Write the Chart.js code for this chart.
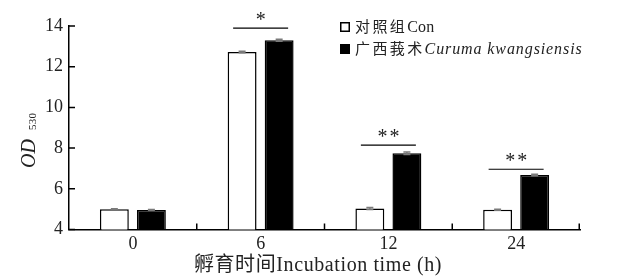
<!DOCTYPE html>
<html>
<head>
<meta charset="utf-8">
<script src="https://cdn.jsdelivr.net/npm/chart.js@4/dist/chart.umd.min.js"></script>
<style>
  html, body { margin: 0; padding: 0; background: #fff; }
  #wrap { width: 633px; height: 276px; }
</style>
</head>
<body>
<div id="wrap"><canvas id="c" width="633" height="276"></canvas></div>
<script>
// ---- data ----
const categories = ['0', '6', '12', '24'];
const conValues = [5.00, 12.72, 5.03, 4.97];
const curValues = [4.96, 13.30, 7.75, 6.68];
const conErr = [0.02, 0.04, 0.05, 0.02];
const curErr = [0.02, 0.05, 0.06, 0.04];
const sigLabels = ['', '*', '**', '**'];
const sigLineValues = [null, 13.9, 8.15, 6.96];
const yTicks = [4, 6, 8, 10, 12, 14];
const legendCn = ['对照组', '广西莪术'];
const legendLatin = ['Con', 'Curuma kwangsiensis'];
const xTitle = '孵育时间Incubation time (h)';
const yTitleMain = 'OD';
const yTitleSub = '530';

const SERIF = '"Liberation Serif", "Times New Roman", "Noto Sans CJK SC", serif';

const decor = {
  id: 'decor',
  afterDraw(chart) {
    const ctx = chart.ctx;
    const { left, right, top, bottom } = chart.chartArea;
    const xs = chart.scales.x, ys = chart.scales.y;
    ctx.save();
    // y tick marks (inward)
    ctx.strokeStyle = '#000';
    ctx.lineWidth = 1.5;
    ctx.beginPath();
    yTicks.forEach(v => {
      const py = ys.getPixelForValue(v);
      ctx.moveTo(left, py);
      ctx.lineTo(left + 6, py);
    });
    // x tick marks at category boundaries (upwards)
    const n = categories.length;
    for (let i = 0; i < n; i++) {
      const bx = i < n - 1 ? (xs.getPixelForValue(i) + xs.getPixelForValue(i + 1)) / 2 : right - 0.75;
      ctx.moveTo(bx, bottom);
      ctx.lineTo(bx, bottom - 6);
    }
    ctx.stroke();

    // error bars
    const errs = [conErr, curErr];
    const vals = [conValues, curValues];
    ctx.strokeStyle = '#7a7a7a';
    ctx.lineWidth = 1.5;
    [0, 1].forEach(d => {
      const meta = chart.getDatasetMeta(d);
      meta.data.forEach((bar, i) => {
        const yt = ys.getPixelForValue(vals[d][i] + errs[d][i]);
        const yb = ys.getPixelForValue(vals[d][i] - errs[d][i]);
        ctx.beginPath();
        ctx.moveTo(bar.x, yt); ctx.lineTo(bar.x, yb);
        ctx.moveTo(bar.x - 3.5, yt); ctx.lineTo(bar.x + 3.5, yt);
        ctx.moveTo(bar.x - 3.5, yb); ctx.lineTo(bar.x + 3.5, yb);
        ctx.stroke();
      });
    });

    // significance marks
    ctx.strokeStyle = '#000';
    ctx.fillStyle = '#222';
    ctx.lineWidth = 1.2;
    ctx.font = '20px ' + SERIF;
    ctx.letterSpacing = '2px';
    ctx.textAlign = 'center';
    ctx.textBaseline = 'alphabetic';
    sigLabels.forEach((lab, i) => {
      if (!lab) return;
      const cx = xs.getPixelForValue(i);
      const ly = ys.getPixelForValue(sigLineValues[i]);
      ctx.beginPath();
      ctx.moveTo(cx - 27.5, ly); ctx.lineTo(cx + 27.5, ly);
      ctx.stroke();
      ctx.fillText(lab, cx + 1, ly - 2);
    });

    // legend
    ctx.textAlign = 'left';
    ctx.lineWidth = 1.5;
    ctx.strokeStyle = '#000';
    ctx.strokeRect(340.75, 22.75, 8.5, 8.5);
    ctx.fillStyle = '#000';
    ctx.fillRect(340, 44, 10, 10);
    ctx.fillStyle = '#222';
    const rows = [32, 54];
    rows.forEach((by, r) => {
      ctx.font = '15px "Noto Sans CJK SC", sans-serif';
      ctx.letterSpacing = '2.4px';
      ctx.fillText(legendCn[r], 355, by);
      const w = ctx.measureText(legendCn[r]).width;
      ctx.font = (r === 1 ? 'italic ' : '') + '16px ' + SERIF;
      ctx.letterSpacing = r === 1 ? '0.9px' : '0.2px';
      ctx.fillText(legendLatin[r], 355 + w, by);
    });

    // x title
    ctx.letterSpacing = '0.6px';
    ctx.font = '20px ' + SERIF;
    ctx.textAlign = 'center';
    ctx.textBaseline = 'alphabetic';
    ctx.fillText(xTitle, 318, 271);

    // y title (rotated)
    ctx.letterSpacing = '0px';
    ctx.translate(35, 168);
    ctx.rotate(-Math.PI / 2);
    ctx.textAlign = 'left';
    ctx.font = 'italic 20px ' + SERIF;
    ctx.fillText(yTitleMain, 0, 0);
    const mw = ctx.measureText(yTitleMain).width;
    ctx.font = '11px ' + SERIF;
    ctx.letterSpacing = '0.3px';
    ctx.fillText(yTitleSub, mw + 9, 1);
    ctx.restore();
  }
};

new Chart(document.getElementById('c'), {
  type: 'bar',
  data: {
    labels: categories,
    datasets: [
      { label: legendCn[0] + legendLatin[0], data: conValues, backgroundColor: '#ffffff', borderColor: '#000000', borderWidth: 1.5 },
      { label: legendCn[1] + legendLatin[1], data: curValues, backgroundColor: '#000000', borderColor: '#000000', borderWidth: 1.5 }
    ]
  },
  options: {
    responsive: false,
    animation: false,
    devicePixelRatio: 1,
    categoryPercentage: 0.58,
    barPercentage: 0.78,
    layout: { padding: { left: 0, top: 26, right: 53, bottom: 0 } },
    plugins: { legend: { display: false }, tooltip: { enabled: false }, title: { display: false } },
    scales: {
      x: {
        grid: { display: false, drawTicks: false },
        border: { display: true, color: '#000', width: 1.5 },
        ticks: { color: '#222', font: { family: SERIF, size: 18 }, padding: 4 },
        afterFit(s) { s.height = 46.5; }
      },
      y: {
        min: 4, max: 14,
        grid: { display: false, drawTicks: false },
        border: { display: true, color: '#000', width: 1.5 },
        ticks: { stepSize: 2, color: '#222', font: { family: SERIF, size: 18 }, padding: 6 },
        afterFit(s) { s.width = 69; }
      }
    }
  },
  plugins: [decor]
});
</script>
</body>
</html>
